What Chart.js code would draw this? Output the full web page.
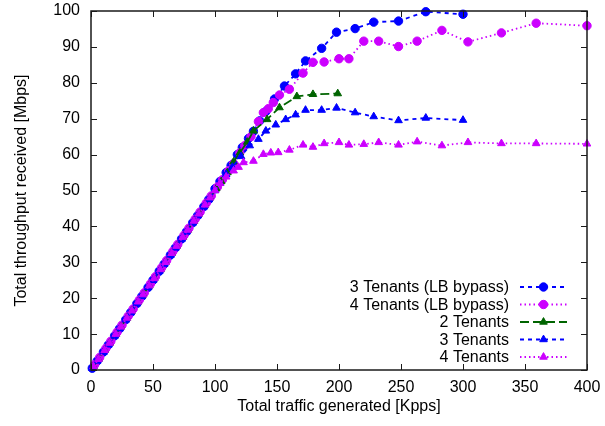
<!DOCTYPE html>
<html>
<head>
<meta charset="utf-8">
<title>Throughput vs traffic</title>
<script src="https://cdn.jsdelivr.net/npm/chart.js@4.4.0/dist/chart.umd.min.js"></script>
<style>
  html, body { margin: 0; padding: 0; background: #fff; }
</style>
</head>
<body>
<canvas id="chartThroughput" width="605" height="426"></canvas>
<script>
/* data: x = traffic generated [Kpps], y = throughput received [Mbps] */
const bypass3X = [1, 5, 10, 14, 19, 23, 28, 32, 37, 41, 46, 50, 55, 59, 64, 68, 73, 77, 82, 86, 91, 95, 100, 104, 109, 113, 118, 122, 127, 131, 136, 141, 148, 156, 165, 173, 186, 198, 213, 228, 248, 270, 300];
const bypass3Y = [0.5, 2.5, 5, 7, 9.5, 11.5, 14, 16, 18.5, 20.5, 23, 25, 27.5, 29.5, 32, 34, 36.5, 38.5, 41, 43, 45.5, 47.5, 50.5, 52.5, 55, 57, 60, 62, 64.5, 66.5, 69.4, 72, 75.5, 79.1, 82.5, 86.1, 89.6, 94.1, 95.1, 96.9, 97.2, 99.8, 99.1];

const bypass4X = [3, 7, 12, 16, 21, 25, 30, 34, 39, 43, 48, 52, 57, 61, 66, 70, 75, 79, 84, 88, 93, 97, 102, 106, 111, 115, 120, 124, 129, 135, 139, 143, 147, 152, 160, 171, 179, 188, 200, 208, 220, 232, 248, 263, 283, 304, 331, 359, 400];
const bypass4Y = [1.5, 3.5, 6, 8, 10.5, 12.5, 15, 17, 19.5, 21.5, 24, 26, 28.5, 30.5, 33, 35, 37.5, 39.5, 42, 44, 46.5, 48.5, 51, 53, 55.5, 57.5, 60.5, 62.5, 65, 69.2, 71.7, 72.8, 74.5, 76.6, 78.2, 82.7, 85.7, 85.8, 86.7, 86.7, 91.6, 91.6, 90.1, 91.6, 94.6, 91.4, 93.9, 96.6, 95.9];

const two_X = [2, 6, 11, 15, 20, 24, 29, 33, 38, 42, 47, 51, 56, 60, 65, 69, 74, 78, 83, 87, 92, 96, 101, 105, 110, 115, 120, 126, 131, 142, 152, 166, 179, 199];
const two_Y = [1, 3, 5.5, 7.5, 10, 12, 14.5, 16.5, 19, 21, 23.5, 25.5, 28, 30, 32.5, 34.5, 37, 39, 41.5, 43.5, 46, 48, 50.5, 52.5, 55, 58, 60.5, 63.5, 66.6, 69.8, 73.1, 76.2, 76.8, 77];

const three_X = [1, 5, 10, 14, 19, 23, 28, 32, 37, 41, 46, 50, 55, 59, 64, 68, 73, 77, 82, 86, 91, 95, 100, 104, 109, 114, 121, 128, 135, 141, 149, 157, 165, 173, 186, 198, 213, 228, 248, 270, 300];
const three_Y = [0.5, 2.5, 5, 7, 9.5, 11.5, 14, 16, 18.5, 20.5, 23, 25, 27.5, 29.5, 32, 34, 36.5, 38.5, 41, 43, 45.5, 47.5, 50, 52, 54.5, 56.5, 59.5, 62.5, 64.3, 66.6, 68.3, 69.8, 71.1, 72.4, 72.4, 73, 71.7, 70.6, 69.5, 70.2, 69.6];

const four_X = [2, 6, 11, 15, 20, 24, 29, 33, 38, 42, 47, 51, 56, 60, 65, 69, 74, 78, 83, 87, 92, 96, 100, 104, 109, 115, 119, 123, 131, 139, 145, 151, 160, 171, 179, 188, 200, 208, 220, 232, 248, 263, 283, 304, 331, 359, 400];
const four_Y = [1, 3, 5.5, 7.5, 10, 12, 14.5, 16.5, 19, 21, 23.5, 25.5, 28, 30, 32.5, 34.5, 37, 39, 41.5, 43.5, 46, 48, 50, 52, 53.8, 55.5, 56.5, 57.8, 58.2, 60.1, 60.5, 60.6, 61.3, 62.7, 62.1, 63.1, 63.4, 62.7, 62.9, 63.4, 62.7, 63.6, 62.5, 63.4, 63.1, 63.1, 63.0];

const seriesLabels = ["3 Tenants (LB bypass)", "4 Tenants (LB bypass)", "2 Tenants", "3 Tenants", "4 Tenants"];

const FONT = "'Liberation Sans', Arial, sans-serif";
const BLUE = "#0000ff";
const VIOLET = "#cc00ff";
const GREEN = "#006400";

const toPoints = (xs, ys) => xs.map((x, i) => ({ x: x, y: ys[i] }));

/* estilo de cada serie: color, guiones y marcador */
const serie = (label, xs, ys, color, dash, style, radius, order) => ({
  label: label,
  data: toPoints(xs, ys),
  borderColor: color,
  backgroundColor: color,
  pointBackgroundColor: color,
  pointBorderColor: color,
  borderWidth: 1.8,
  borderDash: dash,
  pointStyle: style,
  pointRadius: radius,
  pointBorderWidth: 1,
  tension: 0,
  clip: false,
  order: order,
});

const datasets = [
  serie(seriesLabels[0], bypass3X, bypass3Y, BLUE, [4, 4], "circle", 4.2, 5),
  serie(seriesLabels[1], bypass4X, bypass4Y, VIOLET, [1.5, 3], "circle", 4.2, 4),
  serie(seriesLabels[2], two_X, two_Y, GREEN, [9, 4], "triangle", 4.4, 3),
  serie(seriesLabels[3], three_X, three_Y, BLUE, [4, 4], "triangle", 4.4, 2),
  serie(seriesLabels[4], four_X, four_Y, VIOLET, [1.5, 3], "triangle", 4.4, 1),
];

/* marco con ticks hacia adentro en los cuatro lados */
const framePlugin = {
  id: "frame",
  afterDatasetsDraw(chart) {
    const { ctx, chartArea: a, scales } = chart;
    ctx.save();
    ctx.strokeStyle = "#1a1a1a";
    ctx.lineWidth = 1;
    ctx.setLineDash([]);
    ctx.beginPath();
    scales.x.ticks.forEach((t) => {
      const px = Math.round(scales.x.getPixelForValue(t.value)) + 0.5;
      ctx.moveTo(px, a.bottom);
      ctx.lineTo(px, a.bottom - 6);
      ctx.moveTo(px, a.top);
      ctx.lineTo(px, a.top + 6);
    });
    scales.y.ticks.forEach((t) => {
      const py = Math.round(scales.y.getPixelForValue(t.value)) + 0.5;
      ctx.moveTo(a.left, py);
      ctx.lineTo(a.left + 6, py);
      ctx.moveTo(a.right, py);
      ctx.lineTo(a.right - 6, py);
    });
    ctx.stroke();
    ctx.lineWidth = 1.5;
    ctx.strokeRect(a.left, a.top, a.right - a.left, a.bottom - a.top);
    ctx.restore();
  },
};

/* leyenda estilo gnuplot: texto a la izquierda, muestra de linea a la derecha */
const legendPlugin = {
  id: "gpLegend",
  afterDraw(chart) {
    const { ctx, chartArea: a } = chart;
    const textRight = a.right - 78;
    const x1 = a.right - 67;
    const x2 = a.right - 20;
    const top = a.bottom - 83;
    ctx.save();
    ctx.font = "16px " + FONT;
    ctx.textAlign = "right";
    ctx.textBaseline = "middle";
    chart.data.datasets.forEach((ds, i) => {
      const y = top + i * 17.5;
      ctx.fillStyle = "#000";
      ctx.fillText(ds.label, textRight, y + 1);
      ctx.strokeStyle = ds.borderColor;
      ctx.lineWidth = ds.borderWidth;
      ctx.setLineDash(ds.borderDash);
      ctx.beginPath();
      ctx.moveTo(x1, y);
      ctx.lineTo(x2, y);
      ctx.stroke();
      ctx.setLineDash([]);
      ctx.fillStyle = ds.pointBackgroundColor;
      ctx.lineWidth = 1;
      Chart.helpers.drawPoint(ctx, { pointStyle: ds.pointStyle, radius: ds.pointRadius, rotation: 0, borderWidth: 1 }, (x1 + x2) / 2, y);
    });
    ctx.restore();
  },
};

const canvasThroughput = document.getElementById("chartThroughput");
const contextThroughput = canvasThroughput.getContext("2d");

const chartThroughput = new Chart(contextThroughput, {
  type: "line",
  data: { datasets: datasets },
  options: {
    responsive: false,
    animation: false,
    events: [],
    layout: { padding: { top: 11, right: 18, left: 0, bottom: 0 } },
    plugins: {
      legend: { display: false },
      tooltip: { enabled: false },
    },
    scales: {
      x: {
        type: "linear",
        min: 0,
        max: 400,
        grid: { display: false, drawTicks: false },
        border: { display: false },
        ticks: {
          stepSize: 50,
          padding: 8,
          color: "#000",
          maxRotation: 0,
          font: { family: FONT, size: 16 },
        },
        title: {
          display: true,
          text: "Total traffic generated [Kpps]",
          color: "#000",
          font: { family: FONT, size: 16 },
          padding: { top: 0, bottom: 10 },
        },
        afterFit: (scale) => {
          scale.height = 56;
          scale.paddingLeft = 0;
          scale.paddingRight = 0;
        },
      },
      y: {
        type: "linear",
        min: 0,
        max: 100,
        grid: { display: false, drawTicks: false },
        border: { display: false },
        ticks: {
          stepSize: 10,
          padding: 11,
          color: "#000",
          font: { family: FONT, size: 16 },
        },
        title: {
          display: true,
          text: "Total throughput received [Mbps]",
          color: "#000",
          font: { family: FONT, size: 16 },
          padding: { top: 12, bottom: 0 },
        },
        afterFit: (scale) => {
          scale.width = 91;
          scale.paddingTop = 0;
          scale.paddingBottom = 0;
        },
      },
    },
  },
  plugins: [framePlugin, legendPlugin],
});
</script>
</body>
</html>
